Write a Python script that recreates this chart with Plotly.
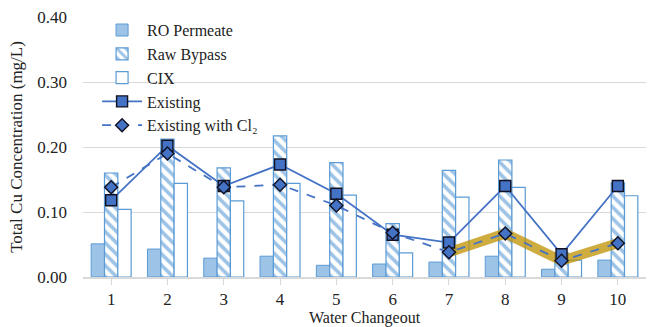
import plotly.graph_objects as go

# Water changeout events
changeouts = [1, 2, 3, 4, 5, 6, 7, 8, 9, 10]
tick_labels = ["1", "2", "3", "4", "5", "6", "7", "8", "9", "10"]

# Total copper concentrations (mg/L)
ro_permeate = [0.051, 0.043, 0.029, 0.032, 0.018, 0.020, 0.023, 0.032, 0.012, 0.026]
raw_bypass = [0.160, 0.212, 0.168, 0.217, 0.176, 0.082, 0.164, 0.180, 0.037, 0.145]
cix = [0.104, 0.144, 0.117, 0.144, 0.126, 0.037, 0.123, 0.138, 0.026, 0.125]
existing = [0.118, 0.202, 0.140, 0.173, 0.128, 0.065, 0.053, 0.140, 0.035, 0.140]
existing_cl2 = [0.138, 0.190, 0.138, 0.142, 0.110, 0.068, 0.038, 0.067, 0.025, 0.052]

# changeouts where the chlorinated series is highlighted
highlight_from = 7

BLUE_OUTLINE = "#5B9BD5"
BLUE_FILL = "#9DC3E6"
LINE_BLUE = "#4472C4"
SERIF = "Liberation Serif"

fig = go.Figure()

fig.add_trace(go.Bar(
    x=changeouts, y=ro_permeate, name="RO Permeate",
    marker=dict(color=BLUE_FILL, line=dict(color=BLUE_OUTLINE, width=1)),
))
fig.add_trace(go.Bar(
    x=changeouts, y=raw_bypass, name="Raw Bypass",
    marker=dict(
        color="white",
        line=dict(color=BLUE_OUTLINE, width=1.2),
        pattern=dict(shape="\\", fgcolor=BLUE_FILL, bgcolor="white",
                     size=8, solidity=0.45, fillmode="replace"),
    ),
))
fig.add_trace(go.Bar(
    x=changeouts, y=cix, name="CIX",
    marker=dict(color="white", line=dict(color=BLUE_OUTLINE, width=1.2)),
))

# highlight band behind the chlorinated series
hx = [c for c in changeouts if c >= highlight_from]
hy = [v for c, v in zip(changeouts, existing_cl2) if c >= highlight_from]
fig.add_trace(go.Scatter(
    x=hx, y=hy, mode="lines", showlegend=False, hoverinfo="skip",
    line=dict(color="rgba(191,144,0,0.75)", width=10),
))

fig.add_trace(go.Scatter(
    x=changeouts, y=existing, name="Existing", mode="lines+markers",
    line=dict(color=LINE_BLUE, width=1.8),
    marker=dict(symbol="square", size=11, color=LINE_BLUE,
                line=dict(color="#111122", width=1.4)),
))
fig.add_trace(go.Scatter(
    x=changeouts, y=existing_cl2, name="Existing with Cl₂", mode="lines+markers",
    line=dict(color=LINE_BLUE, width=1.8, dash="dash"),
    marker=dict(symbol="diamond", size=10, color=LINE_BLUE,
                line=dict(color="#111122", width=1.4)),
))

fig.update_layout(
    width=650, height=327,
    margin=dict(l=83, r=4, t=17, b=50),
    paper_bgcolor="white", plot_bgcolor="white",
    barmode="group", bargap=0.29, bargroupgap=0,
    font=dict(family=SERIF, size=17, color="#222222"),
    legend=dict(
        x=0.025, y=1.015, xanchor="left", yanchor="top",
        bgcolor="rgba(255,255,255,0)", font=dict(family=SERIF, size=16),
        tracegroupgap=0, itemwidth=40,
    ),
    xaxis=dict(
        tickmode="array", tickvals=changeouts, ticktext=tick_labels,
        range=[0.5, 10.5], tickson="boundaries", ticks="outside",
        ticklen=6, tickcolor="#D9D9D9", showline=True, linecolor="#D9D9D9",
        linewidth=1.5, showgrid=False, ticklabelstandoff=0,
        tickfont=dict(family=SERIF, size=17),
    ),
    yaxis=dict(
        range=[0, 0.4], tickvals=[0, 0.1, 0.2, 0.3, 0.4],
        tickformat=".2f", showgrid=True, gridcolor="#D9D9D9", gridwidth=1,
        zeroline=False, ticklabelstandoff=15,
        tickfont=dict(family=SERIF, size=17),
        title=dict(text="Total Cu Concentration (mg/L)", standoff=10,
                   font=dict(family=SERIF, size=17)),
    ),
    annotations=[dict(
        text="Water Changeout", xref="paper", yref="paper", x=0.5, y=0,
        xanchor="center", yanchor="middle", yshift=-41, showarrow=False,
        font=dict(family=SERIF, size=16),
    )],
)

fig.write_html("out.html")
